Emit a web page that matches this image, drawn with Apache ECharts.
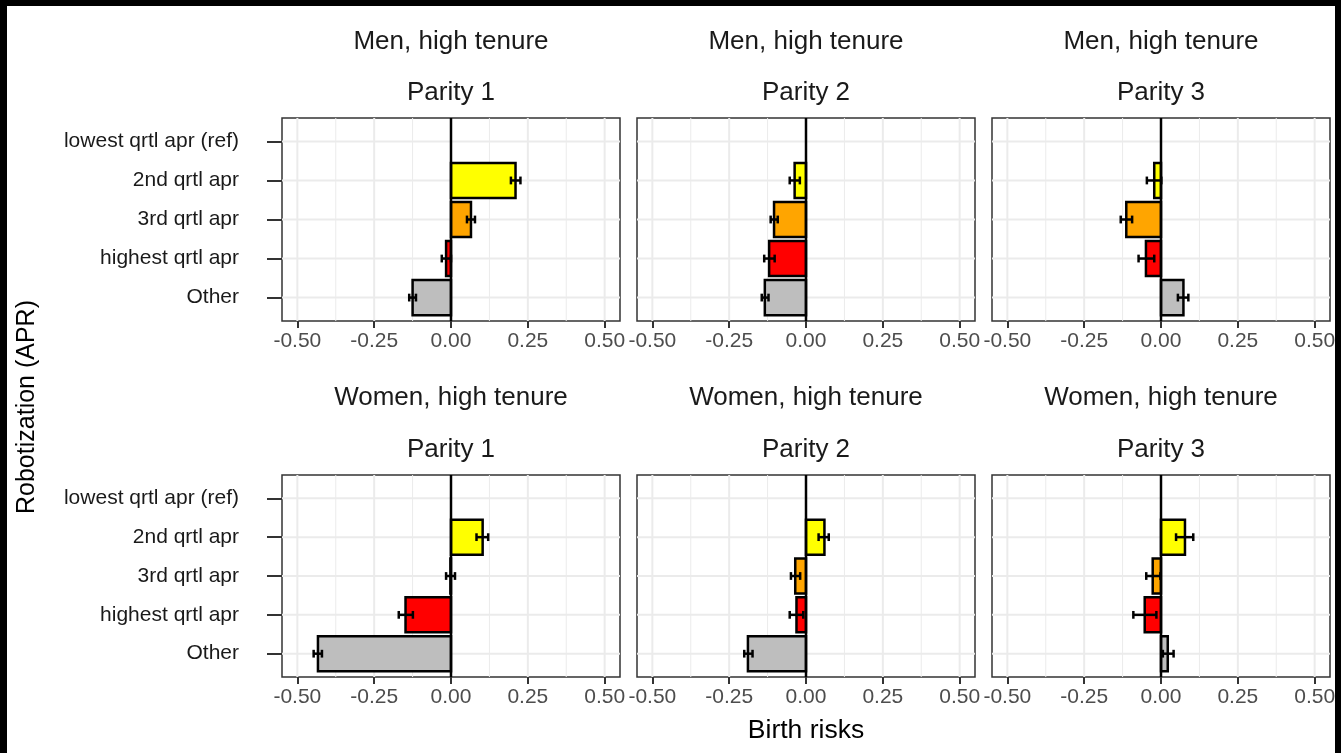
<!DOCTYPE html>
<html>
<head>
<meta charset="utf-8">
<script src="https://cdn.jsdelivr.net/npm/echarts@6/dist/echarts.min.js"></script>
<style>
  html, body { margin: 0; padding: 0; background: #fff; }
  #chart { width: 1341px; height: 753px; }
</style>
</head>
<body>
<div id="chart"></div>
<script>
// Robotization quartile effects on birth risks, by sex and parity
const categories = ['lowest qrtl apr (ref)', '2nd qrtl apr', '3rd qrtl apr', 'highest qrtl apr', 'Other'];
const categoryColors = [null, '#FFFF00', '#FFA500', '#FF0000', '#BEBEBE'];
const xTicks = [-0.5, -0.25, 0, 0.25, 0.5];
const xMinorTicks = [-0.375, -0.125, 0.125, 0.375];
const rowTitles = ['Men, high tenure', 'Women, high tenure'];
const parityTitles = ['Parity 1', 'Parity 2', 'Parity 3'];

// estimate, lower and upper bound per category (reference category has none)
const menP1   = [null, 0.210, 0.065, -0.016, -0.125];
const menP1Lo = [null, 0.195, 0.052, -0.030, -0.136];
const menP1Hi = [null, 0.226, 0.078,  0.000, -0.114];

const menP2   = [null, -0.037, -0.104, -0.120, -0.134];
const menP2Lo = [null, -0.053, -0.115, -0.136, -0.144];
const menP2Hi = [null, -0.020, -0.092, -0.102, -0.122];

const menP3   = [null, -0.022, -0.113, -0.049, 0.073];
const menP3Lo = [null, -0.046, -0.131, -0.073, 0.055];
const menP3Hi = [null,  0.001, -0.094, -0.022, 0.089];

const womenP1   = [null, 0.103, -0.002, -0.148, -0.433];
const womenP1Lo = [null, 0.083, -0.016, -0.170, -0.447];
const womenP1Hi = [null, 0.121,  0.013, -0.124, -0.420];

const womenP2   = [null, 0.060, -0.035, -0.031, -0.189];
const womenP2Lo = [null, 0.041, -0.049, -0.053, -0.201];
const womenP2Hi = [null, 0.074, -0.019, -0.009, -0.174];

const womenP3   = [null, 0.078, -0.027, -0.053, 0.022];
const womenP3Lo = [null, 0.049, -0.048, -0.090, 0.006];
const womenP3Hi = [null, 0.105, -0.002, -0.015, 0.041];

const panelData = [
  [menP1, menP1Lo, menP1Hi], [menP2, menP2Lo, menP2Hi], [menP3, menP3Lo, menP3Hi],
  [womenP1, womenP1Lo, womenP1Hi], [womenP2, womenP2Lo, womenP2Hi], [womenP3, womenP3Lo, womenP3Hi]
];

// layout
const FONT = "'Liberation Sans', Arial, sans-serif";
const colLeft = [282, 637, 992];
const panelWidth = 338;
const rowTop = [118, 475];
const rowHeight = [203, 202];
const BAR_WIDTH = 0.9;
const CAP = 0.2;

const grids = [], xAxes = [], yAxes = [], series = [], graphics = [];

function gridLineItem(params, api) {
  const cs = params.coordSys;
  const v = api.value(0), kind = api.value(1);
  if (kind === 2) {
    const y = api.coord([0, v])[1];
    return { type: 'line', shape: { x1: cs.x, y1: y, x2: cs.x + cs.width, y2: y },
             style: { stroke: '#ebebeb', lineWidth: 2 } };
  }
  const x = api.coord([v, 1])[0];
  return { type: 'line', shape: { x1: x, y1: cs.y, x2: x, y2: cs.y + cs.height },
           style: { stroke: '#ebebeb', lineWidth: kind === 0 ? 2 : 1 } };
}

function barItem(params, api) {
  const v = api.value(0), c = api.value(1);
  const p0 = api.coord([0, c]), p1 = api.coord([v, c]);
  const h = api.size([0, BAR_WIDTH])[1];
  return { type: 'rect',
           shape: { x: Math.min(p0[0], p1[0]), y: p0[1] - h / 2, width: Math.abs(p1[0] - p0[0]), height: h },
           style: { fill: categoryColors[c - 1], stroke: '#000', lineWidth: 2.5 } };
}

function errorItem(params, api) {
  const lo = api.value(0), c = api.value(1), hi = api.value(2);
  const a = api.coord([lo, c]), b = api.coord([hi, c]);
  const hh = api.size([0, CAP])[1] / 2;
  const st = { stroke: '#000', lineWidth: 2.5 };
  return { type: 'group', children: [
    { type: 'line', shape: { x1: a[0], y1: a[1], x2: b[0], y2: b[1] }, style: st },
    { type: 'line', shape: { x1: a[0], y1: a[1] - hh, x2: a[0], y2: a[1] + hh }, style: st },
    { type: 'line', shape: { x1: b[0], y1: b[1] - hh, x2: b[0], y2: b[1] + hh }, style: st }
  ]};
}

function zeroItem(params, api) {
  const cs = params.coordSys;
  const x = api.coord([0, 1])[0];
  return { type: 'line', shape: { x1: x, y1: cs.y, x2: x, y2: cs.y + cs.height },
           style: { stroke: '#000', lineWidth: 2.5 } };
}

const catIdx = categories.map((_, i) => i + 1);

for (let r = 0; r < 2; r++) {
  for (let c = 0; c < 3; c++) {
    const i = r * 3 + c;
    const [est, lo, hi] = panelData[i];
    grids.push({ left: colLeft[c], top: rowTop[r], width: panelWidth, height: rowHeight[r],
                 show: true, backgroundColor: '#fff', borderColor: '#333', borderWidth: 1.5 });
    xAxes.push({
      type: 'value', gridIndex: i, min: -0.55, max: 0.55,
      axisLine: { show: false, onZero: false },
      splitLine: { show: false },
      axisTick: { show: true, customValues: xTicks, length: 7, lineStyle: { color: '#333', width: 2 } },
      axisLabel: { customValues: xTicks, formatter: v => Number(v).toFixed(2), margin: 10,
                   fontSize: 21, color: '#4d4d4d', fontFamily: FONT }
    });
    yAxes.push({
      type: 'value', gridIndex: i, min: 0.4, max: 5.6, inverse: true,
      axisLine: { show: false, onZero: false },
      splitLine: { show: false },
      axisTick: { show: c === 0, customValues: catIdx, length: 15, lineStyle: { color: '#333', width: 2 } },
      axisLabel: { show: c === 0, customValues: catIdx, formatter: v => categories[Math.round(v) - 1],
                   margin: 43, fontSize: 21, color: '#1a1a1a', fontFamily: FONT }
    });

    const gridData = xTicks.map(v => [v, 0])
      .concat(xMinorTicks.map(v => [v, 1]))
      .concat(catIdx.map(v => [v, 2]));
    series.push({ type: 'custom', xAxisIndex: i, yAxisIndex: i, z: 1, silent: true,
                  renderItem: gridLineItem, data: gridData });

    const bars = [], errs = [];
    est.forEach((v, k) => {
      if (v === null) return;
      bars.push([v, k + 1]);
      errs.push([lo[k], k + 1, hi[k]]);
    });
    series.push({ type: 'custom', xAxisIndex: i, yAxisIndex: i, z: 2, silent: true,
                  renderItem: barItem, data: bars });
    series.push({ type: 'custom', xAxisIndex: i, yAxisIndex: i, z: 3, silent: true,
                  renderItem: errorItem, data: errs });
    series.push({ type: 'custom', xAxisIndex: i, yAxisIndex: i, z: 4, silent: true,
                  renderItem: zeroItem, data: [[0, 1]] });

    // facet strip text
    const cx = colLeft[c] + panelWidth / 2;
    const stripY = r === 0 ? [42, 93] : [398, 450];
    graphics.push({ type: 'text', x: cx, y: stripY[0], z: 10,
      style: { text: rowTitles[r], font: '26px ' + FONT, fill: '#1a1a1a',
               textAlign: 'center', textVerticalAlign: 'middle', verticalAlign: 'middle' } });
    graphics.push({ type: 'text', x: cx, y: stripY[1], z: 10,
      style: { text: parityTitles[c], font: '26px ' + FONT, fill: '#1a1a1a',
               textAlign: 'center', textVerticalAlign: 'middle', verticalAlign: 'middle' } });
  }
}

// axis titles
graphics.push({ type: 'text', x: (colLeft[0] + colLeft[2] + panelWidth) / 2, y: 731, z: 10,
  style: { text: 'Birth risks', font: '26.5px ' + FONT, fill: '#000',
           textAlign: 'center', textVerticalAlign: 'middle', verticalAlign: 'middle' } });
graphics.push({ type: 'text', x: 27, y: 407, rotation: Math.PI / 2, z: 10,
  style: { text: 'Robotization (APR)', font: '25px ' + FONT, fill: '#000',
           textAlign: 'center', textVerticalAlign: 'middle', verticalAlign: 'middle' } });

// outer frame
graphics.push({ type: 'rect', z: 100, shape: { x: 0, y: 0, width: 1341, height: 6 }, style: { fill: '#000' } });
graphics.push({ type: 'rect', z: 100, shape: { x: 0, y: 0, width: 7, height: 753 }, style: { fill: '#000' } });
graphics.push({ type: 'rect', z: 100, shape: { x: 1335, y: 0, width: 6, height: 753 }, style: { fill: '#000' } });

const chart = echarts.init(document.getElementById('chart'), null, { renderer: 'canvas' });
chart.setOption({
  animation: false,
  backgroundColor: '#fff',
  textStyle: { fontFamily: FONT },
  grid: grids,
  xAxis: xAxes,
  yAxis: yAxes,
  series: series,
  graphic: graphics
});
</script>
</body>
</html>
